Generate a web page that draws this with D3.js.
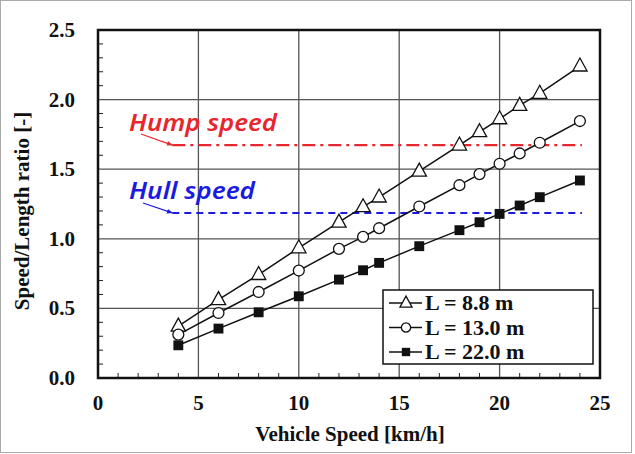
<!DOCTYPE html>
<html>
<head>
<meta charset="utf-8">
<script src="https://cdn.jsdelivr.net/npm/d3@7"></script>
<style>
  body { margin: 0; background: #fff; }
  svg { display: block; }
  .serif { font-family: "Liberation Serif", "Times New Roman", serif; font-weight: bold; fill: #111; }
</style>
</head>
<body>
<svg id="chart" width="635" height="454"></svg>
<script>
// vehicle speed [km/h]
const speeds = [4, 6, 8, 10, 12, 13.2, 14, 16, 18, 19, 20, 21, 22, 24];
// speed/length ratio for each hull length
const ratioL88 = [0.372, 0.563, 0.743, 0.935, 1.119, 1.23, 1.30, 1.486, 1.673, 1.769, 1.862, 1.958, 2.045, 2.241];
const ratioL130 = [0.312, 0.467, 0.618, 0.772, 0.928, 1.014, 1.076, 1.232, 1.385, 1.465, 1.539, 1.613, 1.690, 1.846];
const ratioL220 = [0.235, 0.355, 0.472, 0.587, 0.707, 0.774, 0.827, 0.947, 1.062, 1.119, 1.179, 1.239, 1.299, 1.419];
const seriesNames = ["L = 8.8 m", "L = 13.0 m", "L = 22.0 m"];
const humpSpeed = 1.673;
const hullSpeed = 1.186;
const refLineRange = [3.7, 24.1];
const xTicks = [0, 5, 10, 15, 20, 25];
const yTicks = [0.0, 0.5, 1.0, 1.5, 2.0, 2.5];

const svg = d3.select("#chart");
const margin = {left: 98, right: 35, top: 30, bottom: 76};
const W = 635, H = 454;

// outer picture frame
svg.append("rect")
  .attr("x", 0.5).attr("y", 0.5).attr("width", 631).attr("height", 452)
  .attr("fill", "none").attr("stroke", "#aaa").attr("stroke-width", 1);

const x = d3.scaleLinear().domain([0, 25]).range([margin.left, W - margin.right]);
const y = d3.scaleLinear().domain([0, 2.5]).range([H - margin.bottom, margin.top]);

// grid
const grid = svg.append("g").attr("stroke", "#555").attr("stroke-width", 1.3);
grid.selectAll(".gx").data(xTicks.slice(1, -1)).join("line")
  .attr("x1", d => x(d)).attr("x2", d => x(d))
  .attr("y1", y(0)).attr("y2", y(2.5));
grid.selectAll(".gy").data(yTicks.slice(1, -1)).join("line")
  .attr("y1", d => y(d)).attr("y2", d => y(d))
  .attr("x1", x(0)).attr("x2", x(25));

// minor ticks (inside)
const minorX = d3.range(1, 25).filter(d => d % 5 !== 0);
svg.append("g").selectAll("line").data(minorX).join("line")
  .attr("x1", d => x(d)).attr("x2", d => x(d))
  .attr("y1", y(0)).attr("y2", y(0) - 5)
  .attr("stroke", "#222").attr("stroke-width", 1);
const minorY = d3.range(1, 25).filter(d => d % 5 !== 0).map(d => d / 10);
svg.append("g").selectAll("line").data(minorY).join("line")
  .attr("y1", d => y(d)).attr("y2", d => y(d))
  .attr("x1", x(0)).attr("x2", x(0) + 5)
  .attr("stroke", "#222").attr("stroke-width", 1);

// reference lines
svg.append("line")
  .attr("x1", x(refLineRange[0])).attr("x2", x(refLineRange[1]))
  .attr("y1", y(humpSpeed)).attr("y2", y(humpSpeed))
  .attr("stroke", "#e8262d").attr("stroke-width", 2.2)
  .attr("stroke-dasharray", "13,5,3,5");
svg.append("line")
  .attr("x1", x(refLineRange[0])).attr("x2", x(refLineRange[1]))
  .attr("y1", y(hullSpeed)).attr("y2", y(hullSpeed))
  .attr("stroke", "#1a1ae0").attr("stroke-width", 2)
  .attr("stroke-dasharray", "7,5");

const defs = svg.append("defs");
[["arrRed", "#e8262d"], ["arrBlue", "#1a1ae0"]].forEach(([id, c]) => {
  defs.append("marker").attr("id", id)
    .attr("viewBox", "0 0 10 10").attr("refX", 9).attr("refY", 5)
    .attr("markerWidth", 5).attr("markerHeight", 5).attr("orient", "auto")
    .append("path").attr("d", "M0,1 L10,5 L0,9 z").attr("fill", c);
});

svg.append("line")
  .attr("x1", 141).attr("y1", 134).attr("x2", x(refLineRange[0])).attr("y2", y(humpSpeed))
  .attr("stroke", "#e8262d").attr("stroke-width", 1.2).attr("marker-end", "url(#arrRed)");
svg.append("line")
  .attr("x1", 143).attr("y1", 203).attr("x2", x(refLineRange[0])).attr("y2", y(hullSpeed))
  .attr("stroke", "#1a1ae0").attr("stroke-width", 1.2).attr("marker-end", "url(#arrBlue)");

svg.append("text").text("Hump speed")
  .attr("x", 129).attr("y", 131)
  .attr("font-family", "'Noto Sans', sans-serif").attr("font-style", "italic")
  .attr("font-weight", 600).attr("font-size", 23).attr("fill", "#e8262d")
  .attr("textLength", 148).attr("lengthAdjust", "spacingAndGlyphs");
svg.append("text").text("Hull speed")
  .attr("x", 129).attr("y", 199)
  .attr("font-family", "'Noto Sans', sans-serif").attr("font-style", "italic")
  .attr("font-weight", 600).attr("font-size", 23).attr("fill", "#1a1ae0")
  .attr("textLength", 126).attr("lengthAdjust", "spacingAndGlyphs");

// series
const series = [ratioL88, ratioL130, ratioL220].map((vals, i) => ({
  name: seriesNames[i],
  pts: speeds.map((s, j) => [s, vals[j]])
}));
const line = d3.line().x(d => x(d[0])).y(d => y(d[1]));

const triPath = s => `M0,${-s * 0.62} L${s * 0.55},${s * 0.38} L${-s * 0.55},${s * 0.38} Z`;

function drawMarker(g, kind, size) {
  if (kind === 0) {
    g.append("path").attr("d", triPath(size)).attr("fill", "#fff")
      .attr("stroke", "#111").attr("stroke-width", 1.3);
  } else if (kind === 1) {
    g.append("circle").attr("r", size * 0.42).attr("fill", "#fff")
      .attr("stroke", "#111").attr("stroke-width", 1.3);
  } else {
    g.append("rect").attr("x", -size * 0.38).attr("y", -size * 0.38)
      .attr("width", size * 0.76).attr("height", size * 0.76).attr("fill", "#111");
  }
}

series.forEach((s, i) => {
  svg.append("path").datum(s.pts).attr("d", line)
    .attr("fill", "none").attr("stroke", "#111").attr("stroke-width", 1.5);
});
series.forEach((s, i) => {
  s.pts.forEach(p => {
    const g = svg.append("g").attr("transform", `translate(${x(p[0])},${y(p[1])})`);
    drawMarker(g, i, 13);
  });
});

// axes frame
svg.append("rect")
  .attr("x", x(0)).attr("y", y(2.5)).attr("width", x(25) - x(0)).attr("height", y(0) - y(2.5))
  .attr("fill", "none").attr("stroke", "#111").attr("stroke-width", 2.5);

// tick labels
svg.append("g").selectAll("text").data(xTicks).join("text")
  .attr("class", "serif").style("font-size", "21px").attr("text-anchor", "middle")
  .attr("x", d => x(d)).attr("y", 410).text(d => d);
svg.append("g").selectAll("text").data(yTicks).join("text")
  .attr("class", "serif").style("font-size", "21px").attr("text-anchor", "end")
  .attr("x", 75).attr("y", d => y(d) + 7).text(d => d.toFixed(1));

// axis titles
svg.append("text").text("Vehicle Speed [km/h]")
  .attr("class", "serif").style("font-size", "21px")
  .attr("text-anchor", "middle").attr("x", 350).attr("y", 441);
svg.append("text").text("Speed/Length ratio [-]")
  .attr("class", "serif").style("font-size", "21px")
  .attr("text-anchor", "middle")
  .attr("transform", "translate(29,211) rotate(-90)");

// legend
const lg = svg.append("g");
lg.append("rect").attr("x", 383).attr("y", 290).attr("width", 210).attr("height", 74)
  .attr("fill", "#fff").attr("stroke", "#111").attr("stroke-width", 1.5);
series.forEach((s, i) => {
  const ly = 303 + i * 24.5;
  lg.append("line").attr("x1", 389).attr("x2", 422).attr("y1", ly).attr("y2", ly)
    .attr("stroke", "#111").attr("stroke-width", 1.5);
  const g = lg.append("g").attr("transform", `translate(406,${ly})`);
  drawMarker(g, i, 11);
  lg.append("text").attr("class", "serif").style("font-size", "22px")
    .attr("x", 425).attr("y", ly + 7).text(s.name);
});
</script>
</body>
</html>
